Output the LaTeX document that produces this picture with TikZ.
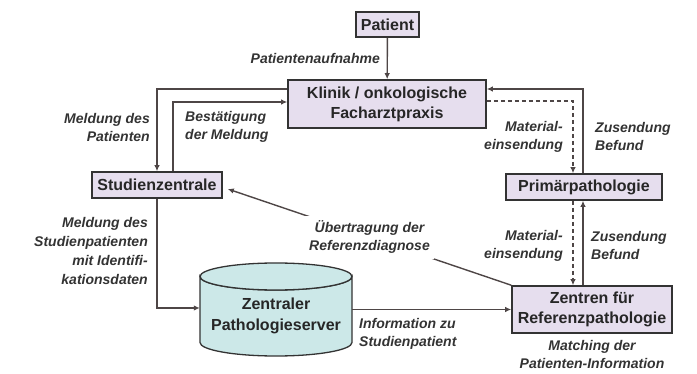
\documentclass[tikz,border=0pt]{standalone}
\usepackage{fontspec}
\setmainfont{Liberation Sans}
\usepackage{tikz}
\usetikzlibrary{arrows.meta}
\usetikzlibrary{calc}

\definecolor{boxfill}{RGB}{230,222,238}
\definecolor{serverfill}{RGB}{204,232,232}
\definecolor{linegray}{RGB}{78,70,70}

\begin{document}
\begin{tikzpicture}[x=1pt, y=-1pt,
        box_style/.style={rectangle,draw=black!80,line width=1.6pt,fill=boxfill,align=center,
            inner sep=0pt,font=\fontsize{16}{20}\selectfont\bfseries,text=black!85},
        server_style/.style={rectangle,align=center,inner sep=0pt,
            font=\fontsize{16}{21}\selectfont\bfseries,text=black!85},
        cylinder_style/.style={draw=black!80,line width=1.3pt,fill=serverfill},
        label_style/.style={font=\fontsize{14}{18}\selectfont\bfseries\itshape,text=black!80,inner sep=1pt},
        edge_style/.style={draw=linegray, line width=1.4pt,-{Latex[length=6pt,width=5.5pt]}},
        dashed_edge_style/.style={draw=linegray, line width=1.4pt,dash pattern=on 4pt off 3pt,-{Latex[length=6pt,width=5.5pt]}}]

        \useasboundingbox (0,0) rectangle (697,374);

        % database cylinder
        \draw [cylinder_style] (200,276.5) -- (200,342.5) arc[start angle=180, end angle=0, x radius=76, y radius=13.5]
            -- (352,276.5) arc[start angle=0, end angle=180, x radius=76, y radius=13.5] -- cycle;
        \draw [cylinder_style] (276,276.5) ellipse [x radius=76, y radius=13.5];

        \node [box_style, minimum width=63pt, minimum height=25pt](patient) at (387.5,24.5) {Patient};

        \node [box_style, minimum width=198pt, minimum height=48pt](klinik) at (387,104) {Klinik / onkologische\\Facharztpraxis};

        \node [box_style, minimum width=130pt, minimum height=26pt](studien) at (157,185) {Studienzentrale};

        \node [box_style, minimum width=156pt, minimum height=26pt](primaer) at (584,187) {Primärpathologie};

        \node [box_style, minimum width=160pt, minimum height=47pt](zentren) at (592,309.5) {Zentren für\\Referenzpathologie};

        \node [server_style, minimum width=152pt, minimum height=60pt](server) at (276,316) {Zentraler\\Pathologieserver};

        \draw [edge_style] (patient) -- (klinik);

        \draw [edge_style] ([yshift=15pt]klinik.west) -| (studien.north);

        \draw [edge_style] ([xshift=16pt]studien.north) |- ([yshift=2pt]klinik.west);

        \draw [dashed_edge_style] ([yshift=3pt]klinik.east) -| ([xshift=-11pt]primaer.north);

        \draw [edge_style] ([xshift=-1pt]primaer.north) |- ([yshift=15pt]klinik.east);

        \draw [dashed_edge_style] ([xshift=-11pt]primaer.south) -- ([xshift=-11pt]primaer.south |- zentren.north);

        \draw [edge_style] ([xshift=-9pt]zentren.north) -- ([xshift=-9pt]zentren.north |- primaer.south);

        \draw [edge_style] (studien.south) |- ([yshift=8pt]server.west);

        \draw [edge_style] ([yshift=6.5pt]server.east) -- (zentren.west);

        \draw [edge_style] (zentren.north west) -- node[label_style, fill=white, inner xsep=4pt, inner ysep=5pt, align=center]{Übertragung der\\Referenzdiagnose} ([xshift=5pt,yshift=-4pt]studien.east);

        % labels
        \node [label_style, anchor=east] (aufnahme) at (381,58) {Patientenaufnahme};

        \node [label_style, anchor=east, align=right] (meldung) at (151,127) {Meldung des\\Patienten};

        \node [label_style, anchor=west, align=left] (bestaetigung) at (184,127) {Bestätigung\\der Meldung};

        \node [label_style, anchor=east, align=right] (material1) at (564,137) {Material-\\einsendung};

        \node [label_style, anchor=west, align=left] (befund1) at (594,137) {Zusendung\\Befund};

        \node [label_style, anchor=east, align=right] (material2) at (564,246) {Material-\\einsendung};

        \node [label_style, anchor=west, align=left] (befund2) at (590,246) {Zusendung\\Befund};

        \node [label_style, anchor=east, align=right, font=\fontsize{14}{18.7}\selectfont\bfseries\itshape] (studmeldung) at (149,251) {Meldung des\\Studienpatienten\\mit Identifi-\\kationsdaten};

        \node [label_style, anchor=west, align=left] (information) at (358,334) {Information zu\\Studienpatient};

        \node [label_style, align=center] (matching) at (592,354) {Matching der\\Patienten-Information};

        \end{tikzpicture}
\end{document}
